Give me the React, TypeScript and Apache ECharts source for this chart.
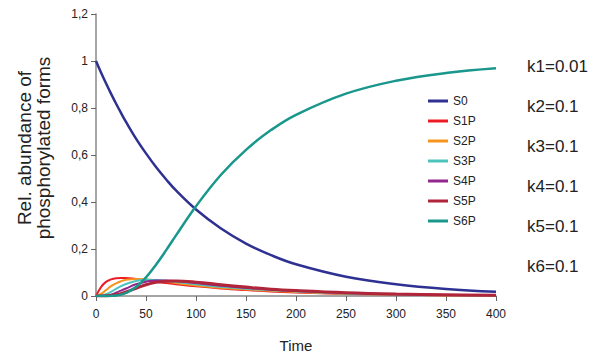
import React, { useEffect, useRef } from "react";
import * as echarts from "echarts";

const times = [0, 5, 10, 15, 20, 25, 30, 40, 50, 60, 70, 80, 100, 125, 150, 175, 200, 250, 300, 350, 400];
const s0 = [1, 0.951, 0.905, 0.861, 0.819, 0.779, 0.741, 0.670, 0.607, 0.549, 0.497, 0.449, 0.368, 0.287, 0.223, 0.174, 0.135, 0.082, 0.050, 0.030, 0.018];
const s1p = [0, 0.038, 0.060, 0.071, 0.076, 0.077, 0.077, 0.072, 0.067, 0.061, 0.055, 0.050, 0.041, 0.032, 0.025, 0.019, 0.015, 0.009, 0.0055, 0.0034, 0.002];
const s2p = [0, 0.009, 0.025, 0.042, 0.054, 0.063, 0.069, 0.072, 0.070, 0.066, 0.061, 0.055, 0.045, 0.035, 0.028, 0.022, 0.017, 0.010, 0.006, 0.0037, 0.0023];
const s3p = [0, 0.0014, 0.008, 0.018, 0.030, 0.042, 0.051, 0.064, 0.069, 0.068, 0.065, 0.060, 0.050, 0.039, 0.031, 0.024, 0.019, 0.011, 0.0068, 0.0041, 0.0025];
const s4p = [0, 0.0002, 0.002, 0.006, 0.014, 0.023, 0.032, 0.050, 0.061, 0.066, 0.066, 0.064, 0.055, 0.044, 0.034, 0.027, 0.021, 0.013, 0.0076, 0.0046, 0.0028];
const s5p = [0, 0, 0.0004, 0.002, 0.005, 0.010, 0.017, 0.033, 0.048, 0.058, 0.063, 0.064, 0.059, 0.048, 0.038, 0.029, 0.023, 0.014, 0.0084, 0.0051, 0.0031];
const s6p = [0, 0, 0, 0.0005, 0.002, 0.006, 0.013, 0.038, 0.079, 0.133, 0.194, 0.258, 0.382, 0.516, 0.622, 0.706, 0.771, 0.861, 0.916, 0.949, 0.969];

const seriesNames = ["S0", "S1P", "S2P", "S3P", "S4P", "S5P", "S6P"];
const seriesValues = [s0, s1p, s2p, s3p, s4p, s5p, s6p];
const seriesColors = ["#2E3192", "#ED1C24", "#F7941D", "#4DC3BE", "#92278F", "#B1253A", "#1A978C"];
const seriesWidths = [2.5, 2, 2, 2, 2, 3, 2.5];

const yAxisTitle = "Rel. abundance of\nphosphorylated forms";
const xAxisTitle = "Time";
const rateLabels = ["k1=0.01", "k2=0.1", "k3=0.1", "k4=0.1", "k5=0.1", "k6=0.1"];

const FONT = "'Liberation Sans', Arial, sans-serif";
const LEGEND_ICON = "path://M0,0 M20,14 M0,5.5 L20,5.5 L20,8.5 L0,8.5 Z";

export default function App() {
  const ref = useRef<HTMLDivElement>(null);
  useEffect(() => {
    document.body.style.margin = "0";
    if (!ref.current) return;
    const chart = echarts.init(ref.current, undefined, { renderer: "svg" });
    const rateY = [67, 107, 147, 187, 227, 267];
    chart.setOption({
      animation: false,
      backgroundColor: "#ffffff",
      textStyle: { fontFamily: FONT },
      grid: { left: 96, right: 108, top: 14, bottom: 61 },
      xAxis: {
        type: "value",
        min: 0,
        max: 400,
        interval: 50,
        name: xAxisTitle,
        nameLocation: "middle",
        nameGap: 42,
        nameTextStyle: { fontSize: 15, color: "#222", fontFamily: FONT },
        axisLine: { lineStyle: { color: "#888", width: 1.5 } },
        axisTick: { show: true, inside: false, length: 5, lineStyle: { color: "#666" } },
        axisLabel: { fontSize: 12, color: "#222", margin: 12, fontFamily: FONT },
        splitLine: { show: false },
      },
      yAxis: {
        type: "value",
        min: 0,
        max: 1.2,
        interval: 0.2,
        axisLine: { show: true, lineStyle: { color: "#888", width: 1.5 } },
        axisTick: { show: true, inside: false, length: 5, lineStyle: { color: "#666" } },
        axisLabel: {
          fontSize: 12,
          color: "#222",
          margin: 8,
          fontFamily: FONT,
          formatter: (v: number) => String(Number(v.toFixed(1))).replace(".", ","),
        },
        splitLine: { show: false },
      },
      legend: {
        orient: "vertical",
        left: 428,
        top: 94,
        padding: 0,
        itemWidth: 20,
        itemHeight: 14,
        itemGap: 6,
        icon: LEGEND_ICON,
        textStyle: { fontSize: 12, color: "#222", fontFamily: FONT },
        data: seriesNames,
      },
      series: seriesNames.map((name, i) => ({
        name,
        type: "line",
        showSymbol: false,
        symbol: "none",
        smooth: 0.4,
        color: seriesColors[i],
        lineStyle: { width: seriesWidths[i], color: seriesColors[i] },
        data: times.map((t, j) => [t, seriesValues[i][j]]),
      })),
      graphic: [
        {
          type: "text",
          x: 34,
          y: 148,
          rotation: Math.PI / 2,
          style: {
            text: yAxisTitle,
            fontSize: 19,
            lineHeight: 19,
            fill: "#222",
            fontFamily: FONT,
            align: "center",
            verticalAlign: "middle",
          },
        },
        ...rateLabels.map((label, i) => ({
          type: "text",
          left: 527,
          top: rateY[i] - 9,
          style: { text: label, fontSize: 17, fill: "#222", fontFamily: FONT },
        })),
      ],
    });
    return () => chart.dispose();
  }, []);
  return <div ref={ref} style={{ width: 604, height: 358 }} />;
}
